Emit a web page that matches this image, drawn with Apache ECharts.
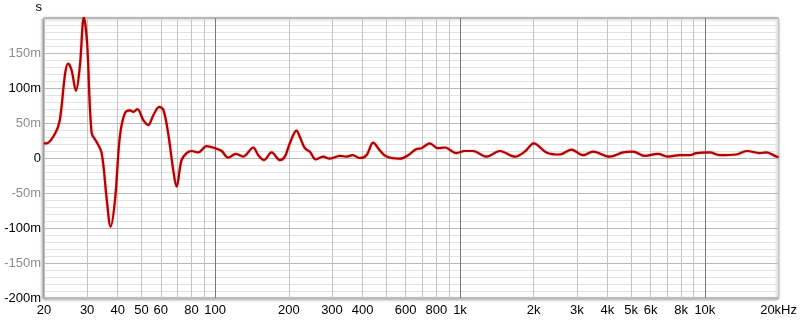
<!DOCTYPE html>
<html>
<head>
<meta charset="utf-8">
<script src="https://cdn.jsdelivr.net/npm/echarts@6/dist/echarts.min.js"></script>
<style>
html,body{margin:0;padding:0;background:#fff;}
#chart{width:800px;height:323px;}
</style>
</head>
<body>
<div id="chart"></div>
<script>
// Frequencies (Hz)
const freqs = [20, 20.5, 22.2, 23.2, 24.4, 25.1, 25.9, 27.0, 28.0, 29.1, 30.0, 31.3, 32.8, 34.4, 36.1, 37.4, 39.0, 40.8, 42.8, 44.9, 46.3, 48.1, 50.9, 53.3, 55.9, 59.1, 61.4, 64.3, 67.4, 69.6, 72.9, 76.5, 80.1, 85.3, 92.3, 100, 106.3, 113, 121.5, 130.2, 143, 150, 158.2, 170, 183.8, 192.6, 201.8, 215, 221.8, 232.5, 243.7, 257.8, 276, 294, 323, 344, 364, 390, 415, 442, 470, 501, 568, 614, 664, 696, 752, 813, 867, 967, 1045, 1130, 1282, 1453, 1673, 1838, 2000, 2254, 2553, 2851, 3178, 3492, 4087, 4630, 5086, 5680, 6430, 7064, 7889, 8669, 9227, 10455, 11490, 13436, 14850, 16717, 17825, 19570, 20000];
// Group delay (ms)
const delays = [21, 21, 35, 54, 121, 135, 126, 96, 130, 201, 164, 36, 23, 7, -60, -98, -60, 30, 64, 68, 66, 70, 54, 47, 61, 73, 69, 35, -17, -41, -3, 7, 10, 8, 17, 14, 10, 0.5, 6, 2, 15, 4, -3, 8, -3, 2, 21, 39, 30, 14, 9, -2, 2, -1, 3, 2, 4, 0, 4, 22, 11, 2, -1, 4, 13, 14, 21, 14, 15, 7, 10, 10, 2, 10, 2, 9, 21, 8, 5, 12, 4, 9, 2, 8, 9, 3, 6, 2, 4, 4, 7, 8, 4, 5, 10, 7, 8, 2, 1];
// Vertical grid lines (Hz)
const gridFreqs = [20, 30, 40, 50, 60, 70, 80, 90, 100, 200, 300, 400, 500, 600, 700, 800, 900, 1000, 2000, 3000, 4000, 5000, 6000, 7000, 8000, 9000, 10000, 20000];
// X tick labels (Hz)
const labelFreqs = [20, 30, 40, 50, 60, 80, 100, 200, 300, 400, 600, 800, 1000, 2000, 3000, 4000, 5000, 6000, 8000, 10000, 20000];

const chart = echarts.init(document.getElementById('chart'), null, {renderer: 'canvas'});
const font = 'Liberation Sans, Arial, sans-serif';
const splitColors = ['#c4c4c4','#c4c4c4','#c4c4c4','#c4c4c4','#c4c4c4','#c4c4c4','#c4c4c4','#c4c4c4','#7a7a7a'];

chart.setOption({
  animation: false,
  backgroundColor: '#fff',
  grid: {
    left: 44, right: 21, top: 18, bottom: 25,
    show: true,
    borderColor: '#8a8a8a', borderWidth: 1,
    backgroundColor: '#fff',
    shadowColor: 'rgba(0,0,0,0.4)', shadowBlur: 3, shadowOffsetX: -1, shadowOffsetY: 1
  },
  xAxis: {
    type: 'log', logBase: 10, min: 20, max: 20000,
    axisLine: {show: false},
    axisTick: {show: false, customValues: gridFreqs},
    axisLabel: {
      customValues: labelFreqs,
      color: '#000', fontFamily: font, fontSize: 13, margin: 6,
      showMinLabel: true, showMaxLabel: true,
      formatter: function (v) {
        v = Math.round(v);
        if (v === 20000) return '20kHz';
        if (v >= 1000) return (v / 1000) + 'k';
        return String(v);
      }
    },
    splitLine: {show: true, lineStyle: {color: splitColors, width: 1}}
  },
  yAxis: {
    type: 'value', min: -200, max: 200, interval: 50,
    name: 's', nameLocation: 'end', nameGap: 4,
    nameTextStyle: {color: '#000', fontFamily: font, fontSize: 13, align: 'right', padding: [0, 2, 0, 0]},
    axisLine: {show: false},
    axisTick: {show: false},
    axisLabel: {
      fontFamily: font, fontSize: 13, margin: 3,
      color: function (v) { return (Math.abs(Math.round(v)) % 100 === 0) ? '#000' : '#8c8c8c'; },
      formatter: function (v) {
        if (v === 200) return '';
        if (v === 0) return '0';
        return v + 'm';
      }
    },
    splitLine: {show: true, lineStyle: {color: '#b8b8b8', width: 1}},
    minorTick: {show: false, splitNumber: 5},
    minorSplitLine: {show: true, lineStyle: {color: '#e2e2e2', width: 1}}
  },
  series: [{
    type: 'line',
    data: freqs.map((f, i) => [f, delays[i]]),
    smooth: 0.35,
    showSymbol: false,
    clip: true,
    lineStyle: {color: '#b00000', width: 2.2, shadowColor: 'rgba(230,90,90,0.6)', shadowBlur: 2},
    itemStyle: {color: '#b00000'}
  }]
});
</script>
</body>
</html>
